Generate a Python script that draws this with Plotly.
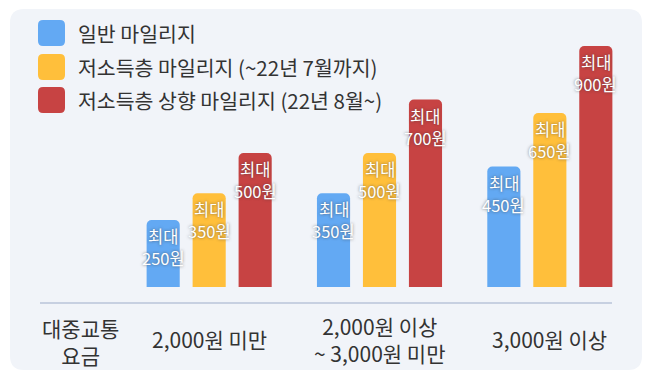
import plotly.graph_objects as go

# ---- data ----
categories = ["2,000원 미만", "2,000원 이상<br>~ 3,000원 미만", "3,000원 이상"]
axis_title = "대중교통<br>요금"
series_names = ["일반 마일리지", "저소득층 마일리지 (~22년 7월까지)", "저소득층 상향 마일리지 (22년 8월~)"]
general = [250, 350, 450]
low_income = [350, 500, 650]
low_income_up = [500, 700, 900]
series_values = [general, low_income, low_income_up]
label_prefix = "최대"
label_unit = "원"
colors = ["#63A9F3", "#FFBF3B", "#C74343"]

W, H = 650, 379
L, R, T, B = 124, 635, 46, 287  # plot area in pixels
FONT = "Noto Sans CJK KR"
BARGAP, GROUPGAP = 0.19, 0.28


def px(x):
    return (x - L) / (R - L)


def py(y):
    return (B - y) / (B - T)


def rrect(x0, y0, x1, y1, r):
    pts = [
        ("M", [(x0 + r, y0)]), ("L", [(x1 - r, y0)]), ("Q", [(x1, y0), (x1, y0 + r)]),
        ("L", [(x1, y1 - r)]), ("Q", [(x1, y1), (x1 - r, y1)]),
        ("L", [(x0 + r, y1)]), ("Q", [(x0, y1), (x0, y1 - r)]),
        ("L", [(x0, y0 + r)]), ("Q", [(x0, y0), (x0 + r, y0)]),
    ]
    s = ""
    for cmd, coords in pts:
        s += cmd + " ".join(f"{px(a):.5f},{py(b):.5f}" for a, b in coords) + " "
    return s + "Z"


fig = go.Figure()
for name, vals, col in zip(series_names, series_values, colors):
    fig.add_trace(go.Bar(
        x=categories, y=vals, name=name,
        marker=dict(color=col, cornerradius=5, line=dict(width=0)),
        showlegend=False, hoverinfo="skip",
    ))

annotations = []
# bar value labels, placed at each bar's top via data coordinates
cat_px = (R - L) / len(categories)
n = len(series_values)
slot = cat_px * (1 - BARGAP) / n
lab_font = dict(size=16.5, color="white", family=FONT,
                shadow="0px 0px 3px rgba(60,60,60,0.7)")
for si, vals in enumerate(series_values):
    shift = (si - (n - 1) / 2) * slot
    for c, v in zip(categories, vals):
        annotations.append(dict(
            text=label_prefix, xref="x", yref="y", x=c, y=v, xshift=shift,
            yshift=-16, xanchor="center", yanchor="middle", showarrow=False,
            font=lab_font))
        annotations.append(dict(
            text=f"{v}{label_unit}", xref="x", yref="y", x=c, y=v, xshift=shift,
            yshift=-38, xanchor="center", yanchor="middle", showarrow=False,
            font=lab_font))

shapes = [
    dict(type="path", xref="paper", yref="paper", path=rrect(10, 9, 642, 370, 14),
         fillcolor="#F1F4F9", line=dict(width=0), layer="below"),
    dict(type="line", xref="paper", yref="paper", x0=px(40), x1=px(612), y0=py(303), y1=py(303),
         line=dict(color="#B9C5D9", width=1.5), layer="below"),
]

legend_rows = [33, 67, 100]
for name, col, yc in zip(series_names, colors, legend_rows):
    shapes.append(dict(type="path", xref="paper", yref="paper",
                       path=rrect(38, yc - 13, 65, yc + 13, 5),
                       fillcolor=col, line=dict(width=0)))
    annotations.append(dict(text=name, xref="paper", yref="paper", x=px(76), y=py(yc),
                            xanchor="left", yanchor="middle", showarrow=False,
                            font=dict(size=20.5, color="#333333", family=FONT)))

for c in categories:
    annotations.append(dict(text=c, xref="x", yref="paper", x=c, y=py(339),
                            xanchor="center", yanchor="middle", showarrow=False,
                            font=dict(size=21, color="#333333", family=FONT)))
annotations.append(dict(text=axis_title, xref="paper", yref="paper", x=px(80), y=py(341),
                        xanchor="center", yanchor="middle", showarrow=False,
                        font=dict(size=21, color="#333333", family=FONT)))

fig.update_layout(
    width=W, height=H,
    margin=dict(l=L, r=W - R, t=T, b=H - B),
    paper_bgcolor="white", plot_bgcolor="rgba(0,0,0,0)",
    barmode="group", bargap=BARGAP, bargroupgap=GROUPGAP,
    xaxis=dict(showticklabels=False, showgrid=False, zeroline=False, showline=False,
               range=[-0.5, 2.5], fixedrange=True),
    yaxis=dict(showticklabels=False, showgrid=False, zeroline=False, showline=False,
               range=[0, 900], fixedrange=True),
    shapes=shapes, annotations=annotations,
    font=dict(family=FONT),
)

fig.write_html("out.html", config={"displayModeBar": False},
               post_script="document.body.style.margin='0';")
